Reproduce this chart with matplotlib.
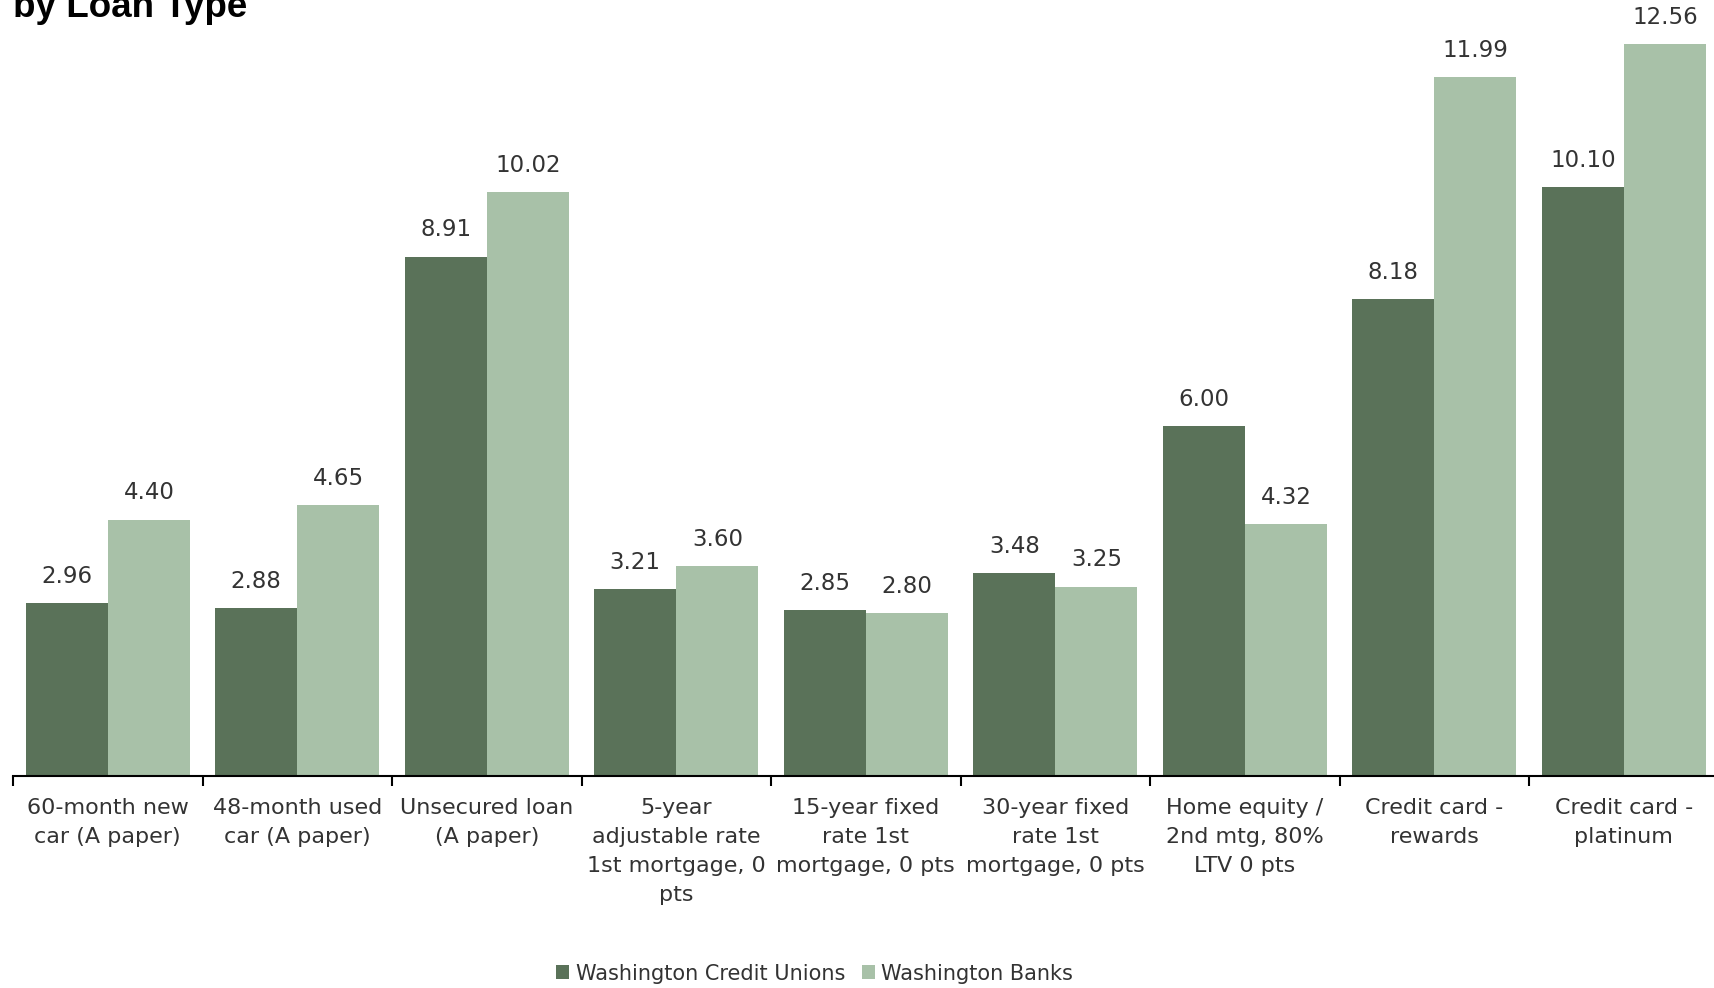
import numpy as np
import matplotlib
matplotlib.use("Agg")
import matplotlib.pyplot as plt

categories = [
    "60-month new\ncar (A paper)",
    "48-month used\ncar (A paper)",
    "Unsecured loan\n(A paper)",
    "5-year\nadjustable rate\n1st mortgage, 0\npts",
    "15-year fixed\nrate 1st\nmortgage, 0 pts",
    "30-year fixed\nrate 1st\nmortgage, 0 pts",
    "Home equity /\n2nd mtg, 80%\nLTV 0 pts",
    "Credit card -\nrewards",
    "Credit card -\nplatinum",
]
credit_unions = [2.96, 2.88, 8.91, 3.21, 2.85, 3.48, 6.00, 8.18, 10.10]
banks = [4.40, 4.65, 10.02, 3.60, 2.80, 3.25, 4.32, 11.99, 12.56]
series_names = ["Washington Credit Unions", "Washington Banks"]

DARK = "#5A7259"
LIGHT = "#A8C1A8"
TEXT = "#333333"

plt.rcParams["font.family"] = ["DejaVu Sans"]

fig = plt.figure(figsize=(17.15, 9.88), dpi=100)
ax = fig.add_axes([0.0076, 0.2146, 0.9945, 0.7846])

x = np.arange(len(categories))
w = 0.433
b1 = ax.bar(x - w / 2, credit_unions, w, color=DARK, label=series_names[0])
b2 = ax.bar(x + w / 2, banks, w, color=LIGHT, label=series_names[1])

# value labels above each bar
for bars, vals in [(b1, credit_unions), (b2, banks)]:
    for rect, v in zip(bars, vals):
        ax.annotate(f"{v:.2f}", (rect.get_x() + rect.get_width() / 2, v),
                    xytext=(0, 11), textcoords="offset points",
                    ha="center", va="bottom", fontsize=16.5, color=TEXT)

ax.set_xlim(-0.5, len(categories) - 0.5)
ax.set_ylim(0, 13.3)
ax.set_yticks([])
for s in ["top", "right", "left"]:
    ax.spines[s].set_visible(False)
ax.spines["bottom"].set_linewidth(1.5)

ax.set_xticks(x)
ax.set_xticklabels(categories, fontsize=16, color=TEXT, linespacing=1.55, va="top")
ax.tick_params(axis="x", which="major", length=0, pad=16)
ax.set_xticks(np.arange(len(categories) + 1) - 0.5, minor=True)
ax.tick_params(axis="x", which="minor", length=7, width=1.5)

fig.text(0.0076, 0.9828, "by Loan Type", fontsize=26.5, fontweight="bold",
         family="Liberation Sans", va="baseline", ha="left", color="black")

fig.legend(loc="center", bbox_to_anchor=(0.475, 0.0146), ncol=2, frameon=False,
           fontsize=15, handlelength=0.65, handleheight=0.65, handletextpad=0.3,
           columnspacing=0.8, labelcolor=TEXT)

fig.savefig("out.png", dpi=100)
